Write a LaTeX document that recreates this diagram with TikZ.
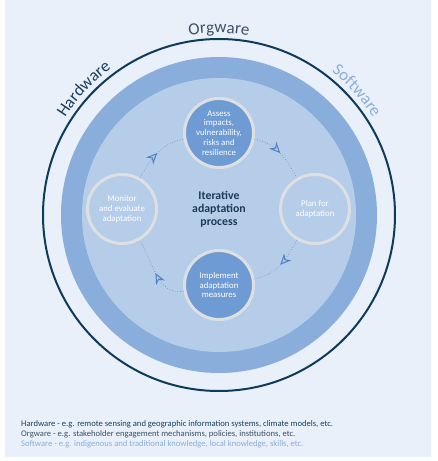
\documentclass[tikz,border=0pt]{standalone}
\usepackage{fontspec}
\setmainfont{Carlito}
\usetikzlibrary{decorations.text,decorations.markings,arrows.meta}
\definecolor{panel}{HTML}{E9F0F9}
\definecolor{midring}{HTML}{8AAEDB}
\definecolor{lightring}{HTML}{B6CDE9}
\definecolor{navy}{HTML}{0E3B5C}
\definecolor{nodedark}{HTML}{6E9BD3}
\definecolor{nodeborder}{HTML}{DEDFE2}
\definecolor{hwcol}{HTML}{17405F}
\definecolor{orgcol}{HTML}{3C5068}
\definecolor{swcol}{HTML}{8AAEDB}
\definecolor{dotcol}{HTML}{8595AA}
\definecolor{arrowcol}{HTML}{4F82C4}
\definecolor{centercol}{HTML}{1C3A5A}
\begin{document}
\begin{tikzpicture}[x=1pt,y=1pt,
  stage/.style={circle,minimum size=69pt,inner sep=0pt,line width=3pt,draw=nodeborder,
    align=center,font=\fontsize{8.8}{9.8}\selectfont,text=white},
  darkstage/.style={stage,fill=nodedark},
  lightstage/.style={stage,fill=lightring},
  flow/.style={draw=dotcol,dotted,line width=0.7pt,postaction={decorate},
    decoration={markings,mark=at position 0.5 with {\arrow[solid]{Stealth[length=11pt,width=10pt,inset=3.5pt,fill=arrowcol!45,color=arrowcol,line width=1pt]}}}},
  ringtext/.style={decorate,decoration={text along path,text align=center,text={#1}}},
  legend/.style={anchor=base west,inner sep=0pt,font=\fontsize{8.6}{10}\selectfont}
]
\useasboundingbox (0,0) rectangle (437,461);
\fill[panel] (4.5,4) rectangle (431,461);
\coordinate (C) at (219,246);
\fill[midring] (C) circle[radius=158];
\fill[lightring] (C) circle[radius=137];
\draw[navy,line width=2pt] (C) circle[radius=176];

\path[ringtext={|\fontsize{17}{17}\selectfont\color{hwcol}|Hardware}]
  (C) ++(162:182) arc[start angle=162,end angle=112,radius=182];
\path[ringtext={|\fontsize{17}{17}\selectfont\color{orgcol}|Orgware}]
  (C) ++(115:182) arc[start angle=115,end angle=65,radius=182];
\path[ringtext={|\fontsize{17}{17}\selectfont\color{swcol}|Software}]
  (C) ++(67:182) arc[start angle=67,end angle=17,radius=182];

\node[darkstage] (assess) at (219,328) {Assess\\impacts,\\vulnerability,\\risks and\\resilience};
\node[lightstage] (plan) at (315,252) {Plan for\\adaptation};
\node[darkstage] (implement) at (219,176) {Implement\\adaptation\\measures};
\node[lightstage] (monitor) at (122,252) {Monitor\\and evaluate\\adaptation};
\node[align=center,font=\bfseries\fontsize{11.8}{12.8}\selectfont,text=centercol] (process) at (219,252) {Iterative\\adaptation\\process};

\draw[flow] (assess) to[out=-10,in=120] (plan);
\draw[flow] (plan) to[out=-120,in=10] (implement);
\draw[flow] (implement) to[out=190,in=-60] (monitor);
\draw[flow] (monitor) to[out=60,in=190] (assess);

\node[legend,text=hwcol] (hwleg) at (21,34.5) {Hardware - e.g. remote sensing and geographic information systems, climate models, etc.};
\node[legend,text=orgcol] (orgleg) at (21,24.5) {Orgware - e.g. stakeholder engagement mechanisms, policies, institutions, etc.};
\node[legend,text=swcol] (swleg) at (21,14.5) {Software - e.g. indigenous and traditional knowledge, local knowledge, skills, etc.};
\end{tikzpicture}
\end{document}
